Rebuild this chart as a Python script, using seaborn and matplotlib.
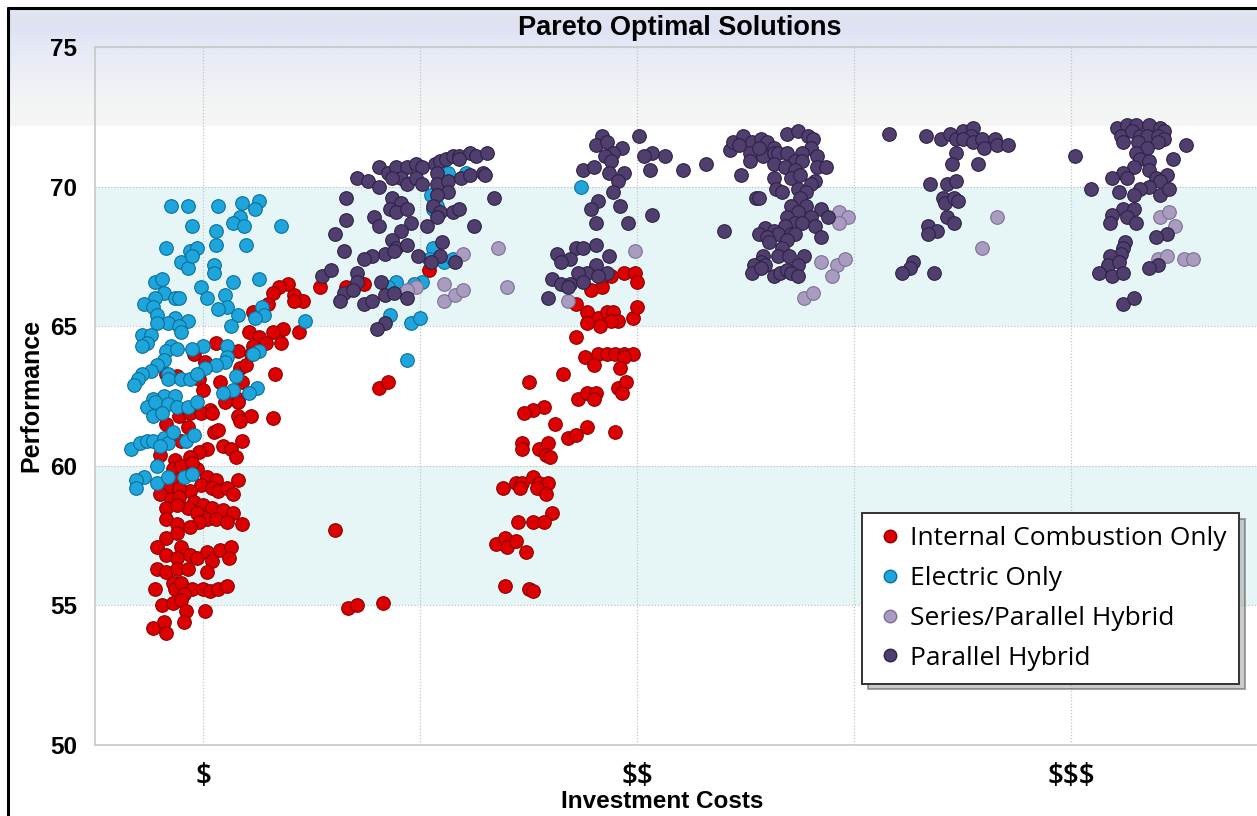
import numpy as np
import pandas as pd
import matplotlib
matplotlib.use("Agg")
import matplotlib.pyplot as plt
from matplotlib.lines import Line2D
import seaborn as sns

# ---------------- data ----------------
series_names = ["Internal Combustion Only", "Electric Only",
                "Series/Parallel Hybrid", "Parallel Hybrid"]
series_colors = ["#dc0000", "#1ea6dc", "#aa9cc0", "#4f3e6e"]
series_edges = ["#8e0000", "#0a6f9a", "#7d6f95", "#2e2245"]

cost_ticks = [1, 2, 3, 4, 5]
cost_tick_labels = ["$", "", "$$", "", "$$$"]
perf_ticks = [50, 55, 60, 65, 70, 75]

ice_cost = [
    1.39, 1.35, 1.32, 1.42, 1.46, 1.42, 1.30, 1.23, 1.37, 1.44,
    1.32, 1.21, 1.26, 1.29, 1.23, 1.36, 1.06, 1.16, 1.22, 0.96,
    1.17, 1.20, 1.33, 1.08, 1.18, 1.01, 0.83, 0.88, 0.98, 1.00,
    1.16, 1.03, 1.54,
    0.83, 0.89, 0.94, 0.99, 1.04, 1.10, 1.16, 1.16, 1.22, 1.17,
    1.32, 0.93, 1.05, 1.07, 1.18, 1.09, 1.13, 1.15, 1.02, 0.98,
    0.94, 0.90, 0.80, 0.87, 0.86, 0.90, 0.97, 0.95, 1.02, 1.06,
    1.16, 0.88, 0.99, 0.84, 0.80, 0.94, 0.89, 1.04, 1.07, 1.11,
    1.14, 0.85, 0.89, 0.96, 1.00, 1.04, 0.93, 0.83, 0.88, 1.09,
    1.14, 0.97, 1.02, 0.98, 1.06, 1.11, 1.18, 0.83, 0.88, 0.94,
    0.83, 0.88, 0.79, 0.83, 0.90, 0.94, 0.97, 0.88, 1.02, 1.08,
    1.13, 1.12, 1.04, 1.02, 0.79, 0.83, 0.88, 0.93, 0.86, 0.87,
    0.90, 0.95, 1.00, 1.03, 1.07, 1.11, 0.91, 0.78, 0.81, 0.86,
    0.90, 0.92, 0.91, 1.01, 0.77, 0.82, 0.83,
    1.66, 1.74, 2.04, 1.81, 1.85, 1.61, 1.67, 1.71, 1.83,
    2.94, 2.99, 3.00, 2.88, 2.84, 2.79, 2.72, 2.77, 2.82, 2.86,
    2.89, 2.91, 2.88, 2.83, 2.77, 2.98, 3.00, 2.72,
    2.76, 2.82, 2.86, 2.90, 2.94, 2.98, 2.94, 2.80, 2.92, 2.66,
    2.50, 2.91, 2.95, 2.93, 2.73, 2.77, 2.81, 2.80, 2.57, 2.52,
    2.48, 2.62, 2.77, 2.90, 2.68, 2.72, 2.47, 2.47, 2.55, 2.59,
    2.58, 2.60, 2.38, 2.44, 2.47, 2.52, 2.55, 2.59, 2.46, 2.54,
    2.58, 2.61, 2.45, 2.52, 2.57, 2.35, 2.39, 2.40, 2.44, 2.49,
    2.39, 2.50, 2.52,
]
ice_perf = [
    66.5, 66.4, 66.2, 66.1, 65.9, 65.9, 65.8, 65.5, 64.9, 64.8,
    64.8, 64.8, 64.6, 64.4, 64.3, 64.4, 64.4, 64.1, 64.0, 64.0,
    63.5, 63.6, 63.3, 63.0, 63.0, 63.7, 63.3, 63.2, 63.1, 62.7,
    62.4, 62.0, 66.4,
    61.5, 61.8, 61.9, 61.9, 61.9, 62.3, 62.3, 61.8, 61.8, 61.6,
    61.7, 61.4, 61.2, 61.3, 60.9, 60.7, 60.6, 60.3, 60.6, 60.5,
    60.3, 60.9, 60.4, 60.2, 59.9, 60.0, 59.9, 60.1, 59.6, 59.5,
    59.5, 59.5, 59.3, 59.2, 59.0, 59.1, 59.2, 59.2, 59.1, 59.2,
    59.0, 58.8, 58.9, 58.7, 58.6, 58.5, 58.5, 58.5, 58.6, 58.4,
    58.3, 58.3, 58.1, 58.0, 58.1, 58.0, 57.9, 58.1, 57.9, 57.8,
    57.4, 57.6, 57.1, 56.8, 57.1, 56.8, 56.7, 56.7, 56.9, 57.0,
    57.1, 56.7, 56.6, 56.2, 56.3, 56.2, 56.3, 56.3, 55.8, 55.6,
    55.8, 55.6, 55.6, 55.5, 55.6, 55.7, 55.4, 55.6, 55.0, 55.1,
    55.2, 54.8, 54.4, 54.8, 54.2, 54.4, 54.0,
    66.4, 66.5, 67.0, 62.8, 63.0, 57.7, 54.9, 55.0, 55.1,
    66.9, 66.9, 66.6, 66.8, 66.4, 66.3, 65.8, 65.5, 65.3, 65.5,
    65.5, 65.2, 65.2, 65.0, 65.1, 65.3, 65.7, 64.6,
    63.9, 64.0, 64.0, 64.0, 64.0, 64.0, 63.9, 63.6, 63.5, 63.3,
    63.0, 62.8, 63.0, 62.6, 62.4, 62.6, 62.6, 62.4, 62.1, 62.0,
    61.9, 61.5, 61.4, 61.2, 61.0, 61.1, 60.8, 60.6, 60.6, 60.8,
    60.4, 60.3, 59.2, 59.4, 59.4, 59.6, 59.4, 59.4, 59.2, 59.2,
    59.0, 58.3, 58.0, 58.0, 58.0, 57.2, 57.4, 57.1, 57.3, 56.9,
    55.7, 55.6, 55.5,
]

ev_cost = [
    0.85, 0.93, 1.07, 1.18, 1.26, 1.24, 1.17, 1.14, 1.19, 1.36,
    0.95, 1.06, 0.83, 0.94, 0.97, 1.06, 1.20, 0.90, 0.93, 0.95,
    1.05, 1.05, 0.78, 0.81, 0.99, 1.14, 1.26, 0.82, 0.78, 0.87,
    0.89, 1.02, 1.10, 0.73, 0.77, 1.11, 1.07, 0.79, 0.87, 0.93,
    0.84, 0.89, 0.79, 0.90, 1.16, 1.13, 1.27, 1.28, 1.24, 1.47,
    0.72, 0.76, 0.74, 0.72, 0.85, 0.83, 0.88, 1.00, 0.95, 1.11,
    1.26, 1.23, 1.11, 1.10, 1.06, 1.01, 0.82, 0.79, 0.76, 0.72,
    0.70, 0.68, 0.84, 0.84, 0.90, 0.94, 0.97, 1.15, 1.14, 1.25,
    1.21, 1.09, 0.82, 0.87, 0.77,
    0.74, 0.78, 0.84, 0.88, 0.93, 0.97, 0.77, 0.81, 0.67, 0.71,
    0.74, 0.77, 0.82, 0.84, 0.80, 0.86, 0.92, 0.96, 0.79, 0.73,
    0.69, 0.69, 0.79, 0.84, 0.91, 0.95,
    2.13, 2.21, 2.05, 2.06, 2.08, 2.06, 2.04, 2.11, 2.15, 1.89,
    1.85, 2.01, 1.97, 1.86, 1.96, 2.00, 1.94, 2.74,
]
ev_perf = [
    69.3, 69.3, 69.3, 69.4, 69.5, 69.2, 68.9, 68.7, 68.6, 68.6,
    68.6, 68.4, 67.8, 67.7, 67.8, 67.9, 67.9, 67.3, 67.1, 67.5,
    67.2, 66.9, 66.6, 66.7, 66.4, 66.6, 66.7, 66.2, 66.0, 66.0,
    66.0, 66.0, 66.1, 65.8, 65.7, 65.7, 65.6, 65.4, 65.3, 65.2,
    65.1, 65.0, 65.1, 64.8, 65.4, 65.0, 65.7, 65.4, 65.3, 65.2,
    64.7, 64.7, 64.4, 64.3, 64.3, 64.1, 64.2, 64.3, 64.2, 64.3,
    64.1, 64.0, 63.9, 63.7, 63.6, 63.5, 63.8, 63.6, 63.4, 63.3,
    63.1, 62.9, 63.3, 63.1, 63.1, 63.1, 63.3, 63.2, 62.7, 62.8,
    62.6, 62.6, 62.5, 62.5, 62.4,
    62.1, 62.3, 62.2, 62.1, 62.1, 62.3, 61.8, 61.9, 60.6, 60.8,
    60.9, 60.9, 61.0, 60.8, 60.7, 61.2, 60.9, 61.1, 60.0, 59.6,
    59.5, 59.2, 59.4, 59.6, 59.6, 59.7,
    70.5, 70.5, 69.7, 69.2, 69.3, 67.8, 67.4, 67.3, 67.4, 66.6,
    66.4, 66.6, 66.5, 65.4, 65.1, 65.3, 63.8, 70.0,
]

sph_cost = [
    2.20, 2.36, 2.11, 1.98, 1.94, 2.11, 2.16, 2.20, 2.40, 2.68,
    2.99, 3.93, 3.97, 3.93, 3.85, 3.92, 3.96, 3.90, 3.77, 3.81,
    4.66, 4.59, 5.41, 5.45, 5.48, 5.40, 5.44, 5.52, 5.56,
]
sph_perf = [
    67.6, 67.8, 66.5, 66.4, 66.3, 65.9, 66.1, 66.3, 66.4, 65.9,
    67.7, 69.1, 68.9, 68.7, 67.3, 67.2, 67.4, 66.8, 66.0, 66.2,
    68.9, 67.8, 68.9, 69.1, 68.6, 67.4, 67.5, 67.4, 67.4,
]

ph_cost = [
    1.71, 1.76, 1.81, 1.81, 1.85, 1.89, 1.94, 1.98, 2.01, 1.91,
    1.94, 1.98, 2.01, 1.87, 2.07, 2.09, 2.12, 2.15, 2.18, 2.23,
    2.26, 2.31, 2.18, 2.08, 2.08, 2.13, 2.19, 2.23, 2.29, 2.30,
    2.13, 2.08, 2.06, 2.09, 2.08, 2.15, 2.18, 2.25, 2.34, 1.66,
    1.87, 1.91, 1.86, 1.89, 1.94, 1.96, 1.91, 1.79, 1.81, 1.66,
    2.03, 1.61, 1.87, 1.89, 1.94, 1.84, 1.88, 1.65, 1.78, 1.74,
    1.99, 2.10, 2.09, 2.05, 2.16, 1.55, 1.59, 1.71, 1.71, 1.82,
    1.65, 1.63, 1.69, 1.74, 1.78, 1.84, 1.88, 1.94, 1.84, 1.80,
    2.84, 2.81, 2.86, 2.93, 2.89, 2.85, 2.88, 3.01, 3.07, 3.03,
    3.13, 3.06, 2.75, 2.80, 2.87, 2.94, 2.91, 2.89, 2.82, 2.79,
    2.92, 2.81, 2.96, 3.07, 2.81, 2.72, 2.75, 2.63, 2.69, 2.65,
    2.87, 2.81, 2.77, 2.73, 2.86, 2.82, 2.61, 2.65, 2.69, 2.75,
    2.68, 2.59,
    3.21, 3.32, 3.48, 3.43, 3.44, 3.49, 3.47, 3.53, 3.57, 3.60,
    3.52, 3.58, 3.56, 3.63, 3.63, 3.65, 3.69, 3.74, 3.79, 3.81,
    3.80, 3.83, 3.69, 3.76, 3.73, 3.76, 3.52, 3.63, 3.68, 3.73,
    3.83, 3.87, 3.63, 3.71, 3.75, 3.82, 3.80, 3.64, 3.67, 3.74,
    3.78, 3.55, 3.56, 3.75, 3.71, 3.78, 3.85, 3.88, 3.74, 3.69,
    3.80, 3.73, 3.76, 3.68, 3.82, 3.59, 3.63, 3.40, 3.56, 3.65,
    3.71, 3.73, 3.60, 3.69, 3.61, 3.85, 3.67, 3.58, 3.65, 3.70,
    3.77, 3.57, 3.54, 3.59, 3.74, 3.53, 3.57, 3.63, 3.66, 3.69,
    3.71, 3.74,
    4.16, 4.33, 4.40, 4.44, 4.47, 4.50, 4.55, 4.54, 4.50, 4.55,
    4.59, 4.60, 4.65, 4.66, 4.71, 4.47, 4.45, 4.57, 4.35, 4.43,
    4.47, 4.41, 4.42, 4.46, 4.48, 4.43, 4.46, 4.34, 4.38, 4.34,
    4.27, 4.26, 4.22, 4.37,
    5.02, 5.09, 5.21, 5.26, 5.30, 5.36, 5.41, 5.43, 5.23, 5.28,
    5.32, 5.35, 5.40, 5.43, 5.24, 5.31, 5.40, 5.35, 5.53, 5.30,
    5.32, 5.36, 5.47, 5.29, 5.24, 5.26, 5.19, 5.36, 5.39, 5.44,
    5.41, 5.36, 5.32, 5.29, 5.22, 5.41, 5.45, 5.24, 5.29, 5.19,
    5.26, 5.30, 5.18, 5.44, 5.39, 5.25, 5.24, 5.23, 5.18, 5.17,
    5.22, 5.13, 5.19, 5.24, 5.40, 5.36, 5.24, 5.29,
]
ph_perf = [
    70.3, 70.2, 70.7, 70.0, 70.5, 70.7, 70.7, 70.8, 70.7, 70.3,
    70.1, 70.3, 70.1, 70.3, 70.8, 70.9, 71.0, 71.1, 71.1, 71.2,
    71.1, 71.2, 71.0, 70.5, 70.1, 70.2, 70.3, 70.4, 70.5, 70.4,
    69.8, 69.7, 69.3, 69.1, 68.9, 69.1, 69.2, 68.6, 69.6, 69.6,
    69.6, 69.4, 69.2, 69.1, 69.2, 68.7, 68.4, 68.9, 68.6, 68.8,
    68.6, 68.3, 68.1, 67.8, 67.9, 67.6, 67.7, 67.7, 67.5, 67.4,
    67.5, 68.0, 67.5, 67.3, 67.3, 66.8, 67.0, 66.9, 66.6, 66.6,
    66.2, 65.9, 66.3, 65.8, 65.9, 66.1, 66.2, 66.0, 65.1, 64.9,
    71.8, 71.5, 71.6, 71.4, 71.2, 71.1, 70.9, 71.8, 71.2, 71.1,
    71.1, 70.6, 70.6, 70.7, 70.5, 70.5, 70.2, 69.8, 69.5, 69.2,
    69.3, 68.7, 68.7, 69.0, 67.9, 67.8, 67.8, 67.6, 67.4, 67.3,
    67.5, 67.2, 66.9, 66.9, 66.9, 66.8, 66.7, 66.5, 66.5, 66.6,
    66.4, 66.0,
    70.6, 70.8, 70.4, 71.3, 71.6, 71.8, 71.5, 71.6, 71.7, 71.6,
    71.2, 71.1, 71.4, 71.4, 71.2, 71.2, 71.9, 72.0, 71.8, 71.7,
    71.4, 71.1, 71.2, 71.2, 70.9, 70.9, 70.9, 70.8, 70.7, 70.6,
    70.7, 70.7, 70.3, 70.3, 70.4, 70.2, 70.1, 69.9, 69.8, 69.9,
    69.8, 69.6, 69.6, 69.6, 69.3, 69.3, 69.2, 68.9, 69.1, 68.9,
    68.9, 68.7, 68.7, 68.6, 68.6, 68.5, 68.4, 68.4, 68.3, 68.3,
    68.3, 68.3, 68.2, 68.1, 68.0, 68.2, 67.8, 67.5, 67.5, 67.5,
    67.5, 67.3, 67.2, 67.2, 67.2, 66.9, 67.1, 66.8, 66.9, 67.0,
    66.9, 66.8,
    71.9, 71.8, 71.7, 71.9, 71.7, 72.0, 72.1, 71.8, 71.7, 71.6,
    71.7, 71.4, 71.7, 71.5, 71.5, 71.2, 70.8, 70.8, 70.1, 70.1,
    70.2, 69.6, 69.4, 69.6, 69.5, 68.9, 68.7, 68.6, 68.4, 68.3,
    67.3, 67.1, 66.9, 66.9,
    71.1, 69.9, 72.1, 72.2, 72.2, 72.2, 72.1, 72.0, 71.8, 72.0,
    71.8, 71.8, 71.8, 71.7, 71.6, 71.6, 71.6, 71.4, 71.5, 71.2,
    71.0, 70.9, 71.0, 70.7, 70.5, 70.3, 70.3, 70.6, 70.3, 70.4,
    70.2, 70.0, 69.9, 69.7, 69.8, 69.7, 69.9, 69.2, 69.2, 69.0,
    68.9, 68.7, 68.7, 68.3, 68.2, 68.0, 67.8, 67.6, 67.5, 67.2,
    67.3, 66.9, 66.8, 66.9, 67.2, 67.1, 65.8, 66.0,
]

frames = []
for name, c, p in zip(series_names,
                      [ice_cost, ev_cost, sph_cost, ph_cost],
                      [ice_perf, ev_perf, sph_perf, ph_perf]):
    frames.append(pd.DataFrame({"cost": c, "perf": p, "type": name}))
df = pd.concat(frames, ignore_index=True)

# ---------------- style ----------------
sns.set_style("white")
plt.rcParams["font.family"] = ["Liberation Sans", "DejaVu Sans"]
plt.rcParams["text.parse_math"] = False
plt.rcParams["text.color"] = "black"
plt.rcParams["xtick.color"] = "black"
plt.rcParams["ytick.color"] = "black"

W, H = 1257, 816
fig = plt.figure(figsize=(W / 100, H / 100), dpi=100)

# header gradient (figure background)
bg = fig.add_axes([0, 0, 1, 1], zorder=-5)
bg.set_axis_off()
rows = np.arange(H)
stop_px = [8, 28, 45, 70, 95, 108, 124]
stop_rgb = [(0.875, 0.898, 0.929), (0.878, 0.886, 0.955), (0.898, 0.914, 0.962),
            (0.925, 0.933, 0.968), (0.945, 0.955, 0.965), (0.950, 0.966, 0.958),
            (0.962, 0.962, 0.962)]
img = np.ones((H, W, 3))
for ch in range(3):
    col = np.interp(rows, stop_px, [s[ch] for s in stop_rgb])
    img[:, :, ch] = col[:, None]
img[rows < 8] = 1.0
img[rows > 125] = 1.0
img[:, :8] = 1.0
bg.imshow(img, extent=[0, 1, 0, 1], aspect="auto", origin="upper", interpolation="nearest")
bg.set_xlim(0, 1)
bg.set_ylim(0, 1)

ax = fig.add_axes([95 / W, 1 - 745 / H, (W - 95) / W, (745 - 47) / H])
ax.set_facecolor("none")

for lo, hi in [(55, 60), (65, 70)]:
    ax.axhspan(lo, hi, color="#e6f6f7", lw=0, zorder=0)

for name, color, edge in zip(series_names, series_colors, series_edges):
    sub = df[df["type"] == name]
    sns.scatterplot(data=sub, x="cost", y="perf", color=color, edgecolor=edge,
                    linewidth=0.8, s=96, ax=ax, zorder=3, legend=False)

ax.set_xlim(0.502, 5.857)
ax.set_ylim(50, 75)
ax.set_xticks(cost_ticks)
ax.set_xticklabels(cost_tick_labels)
ax.set_yticks(perf_ticks)
ax.grid(True, color="#c4c4c4", ls=(0, (1, 1.5)), lw=0.9)
ax.set_axisbelow(True)
ax.tick_params(axis="both", length=0)
ax.tick_params(axis="x", pad=12)
ax.tick_params(axis="y", pad=13)
for lab in ax.get_xticklabels():
    lab.set_fontfamily(["Open Sans", "DejaVu Sans"])
    lab.set_fontsize(20)
    lab.set_fontweight("semibold")
for lab in ax.get_yticklabels():
    lab.set_fontweight("bold")
    lab.set_fontsize(17.5)
ax.set_xlabel("")
ax.set_ylabel("")
for s in ["left", "bottom", "top"]:
    ax.spines[s].set_color("#c8c8c8")
    ax.spines[s].set_linewidth(1.2)
ax.spines["right"].set_visible(False)

# legend
handles = [Line2D([], [], marker="o", ls="", markerfacecolor=c, markeredgecolor=e,
                  markersize=9) for c, e in zip(series_colors, series_edges)]
leg = ax.legend(handles, series_names, loc="upper left",
                bbox_to_anchor=((862 - 95) / 1162, (745 - 513) / 698),
                frameon=True, fancybox=False,
                shadow={"ox": 4, "oy": -4, "facecolor": "0.6", "alpha": 0.5},
                prop={"family": ["Open Sans", "DejaVu Sans"], "size": 19},
                labelspacing=0.56, handletextpad=0.2, borderpad=0.5,
                handlelength=1.1, borderaxespad=0)
leg.get_frame().set_edgecolor("#333333")
leg.get_frame().set_linewidth(1.4)
leg.get_frame().set_facecolor("white")
leg.get_frame().set_alpha(1)

# titles
fig.text(680 / W, 1 - 28 / H, "Pareto Optimal Solutions", ha="center", va="center",
         fontsize=19.5, fontweight="bold")
fig.text(31 / W, 1 - 395 / H, "Performance", ha="center", va="center",
         rotation=90, fontsize=18, fontweight="bold")
fig.text(662 / W, 1 - 801 / H, "Investment Costs", ha="center", va="center",
         fontsize=17.5, fontweight="bold")

# outer frame (left and top)
fig.add_artist(Line2D([7.5 / W, 7.5 / W], [0, 1 - 7.5 / H], transform=fig.transFigure,
                      color="black", lw=2.2))
fig.add_artist(Line2D([7.5 / W, 1], [1 - 7.5 / H, 1 - 7.5 / H], transform=fig.transFigure,
                      color="black", lw=2.2))

fig.savefig("out.png", dpi=100)
